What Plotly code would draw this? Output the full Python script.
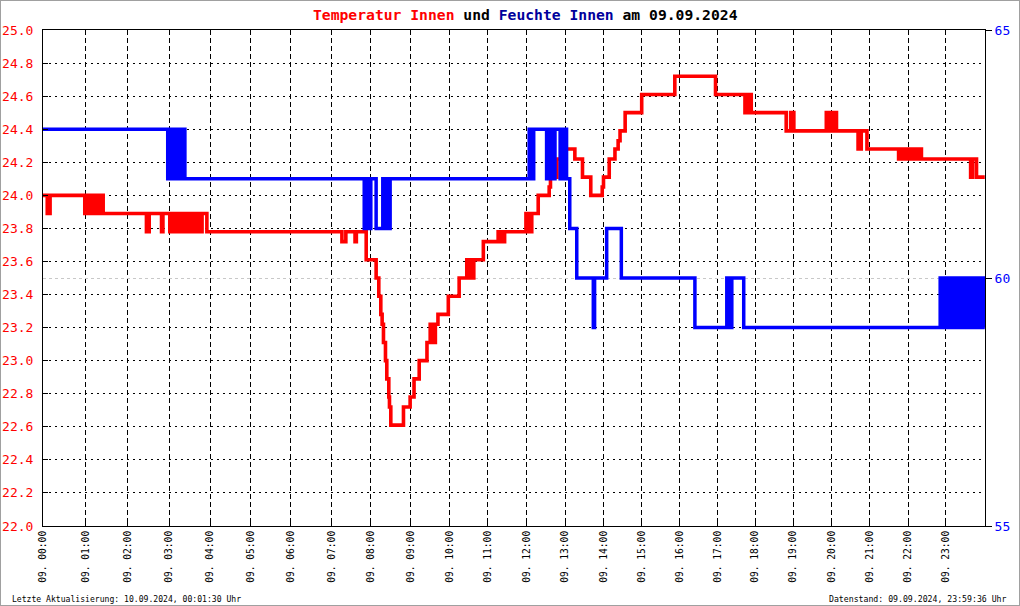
import numpy as np
import plotly.graph_objects as go

# ---------------- data ----------------
hour_labels = [f"09. {h:02d}:00" for h in range(24)]

# offsets (in plot units) of each hour gridline on the original chart's
# slightly non-uniform time scale, 00:00 .. 24:00
hour_tick_offsets = [0, 42.5, 84.9, 126.1, 167.3, 207.9, 247.9, 288.4, 327.8,
                     367.8, 406.6, 444.8, 483.6, 522.3, 560.5, 598.7, 636.9,
                     674.4, 712.0, 750.2, 788.4, 826.5, 865.3, 902.8, 942]

temp_times = [
    "00:00", "00:06", "00:10", "00:59", "01:02", "01:05", "01:08", "01:11", "01:14",
    "01:17", "01:20", "01:25", "02:27", "02:31", "02:49", "02:51", "03:01", "03:05",
    "03:09", "03:13", "03:17", "03:21", "03:26", "03:30", "03:35", "03:40", "03:44",
    "03:48", "03:55", "07:16", "07:22", "07:36", "07:38", "07:53", "08:08", "08:12",
    "08:15", "08:17", "08:19", "08:22", "08:24", "08:27", "08:28", "08:30", "08:49",
    "08:59", "09:05", "09:13", "09:25", "09:30", "09:32", "09:34", "09:36", "09:38",
    "09:42", "09:58", "10:15", "10:27", "10:29", "10:31", "10:33", "10:35", "10:37",
    "10:38", "10:53", "11:16", "11:18", "11:21", "11:23", "11:26", "11:59", "12:01",
    "12:03", "12:06", "12:08", "12:18", "12:35", "12:37", "12:47", "12:58", "13:15",
    "13:27", "13:40", "13:58", "14:00", "14:09", "14:18", "14:23", "14:26", "14:34",
    "15:00", "15:52", "16:57", "17:44", "17:46", "17:49", "17:51", "17:54", "18:49",
    "18:56", "19:01", "19:52", "19:55", "19:59", "20:02", "20:04", "20:08", "20:42",
    "20:47", "20:56", "21:45", "21:48", "21:51", "21:55", "21:59", "22:03", "22:06",
    "22:10", "22:14", "22:17", "22:21", "23:38", "23:41", "23:47", "23:59:36"]
temp_values = [
    24.00, 23.89, 24.00, 23.89, 24.00, 23.89, 24.00, 23.89, 24.00,
    23.89, 24.00, 23.89, 23.78, 23.89, 23.78, 23.89, 23.78, 23.89,
    23.78, 23.89, 23.78, 23.89, 23.78, 23.89, 23.78, 23.89, 23.78,
    23.89, 23.78, 23.72, 23.78, 23.72, 23.78, 23.61, 23.50, 23.39,
    23.28, 23.22, 23.11, 23.00, 22.89, 22.78, 22.72, 22.61, 22.72,
    22.78, 22.89, 23.00, 23.11, 23.22, 23.11, 23.22, 23.11, 23.22,
    23.28, 23.39, 23.50, 23.61, 23.50, 23.61, 23.50, 23.61, 23.50,
    23.61, 23.72, 23.78, 23.72, 23.78, 23.72, 23.78, 23.89, 23.78,
    23.89, 23.78, 23.89, 24.00, 24.05, 24.11, 24.22, 24.28, 24.22,
    24.11, 24.00, 24.05, 24.11, 24.22, 24.28, 24.33, 24.39, 24.50,
    24.61, 24.72, 24.61, 24.50, 24.61, 24.50, 24.61, 24.50, 24.39,
    24.50, 24.39, 24.50, 24.39, 24.50, 24.39, 24.50, 24.39, 24.28,
    24.39, 24.28, 24.22, 24.28, 24.22, 24.28, 24.22, 24.28, 24.22,
    24.28, 24.22, 24.28, 24.22, 24.11, 24.22, 24.11, 24.11]

hum_times = [
    "00:00", "02:58", "03:00", "03:02", "03:04", "03:06", "03:09", "03:12", "03:14",
    "03:17", "03:19", "03:23", "07:50", "07:52", "07:54", "07:56", "07:58", "08:00",
    "08:08", "08:18", "08:20", "08:22", "08:24", "08:26", "08:28", "08:29", "12:04",
    "12:06", "12:08", "12:10", "12:11", "12:31", "12:33", "12:35", "12:37", "12:39",
    "12:41", "12:43", "12:44", "12:52", "12:57", "13:02", "13:07", "13:18", "13:44",
    "13:46", "14:05", "14:28", "16:24", "17:15", "17:17", "17:19", "17:21", "17:23",
    "17:42", "22:51", "22:52", "22:54", "22:55", "22:57", "22:58", "23:00", "23:02",
    "23:03", "23:05", "23:06", "23:08", "23:09", "23:11", "23:12", "23:14", "23:15",
    "23:17", "23:18", "23:20", "23:21", "23:23", "23:24", "23:29", "23:30", "23:32",
    "23:33", "23:35", "23:36", "23:41", "23:42", "23:44", "23:45", "23:47", "23:48",
    "23:50", "23:51", "23:53", "23:54", "23:56", "23:57", "23:59", "23:59:36"]
hum_values = [
    63, 62, 63, 62, 63, 62, 63, 62, 63,
    62, 63, 62, 61, 62, 61, 62, 61, 62,
    61, 62, 61, 62, 61, 62, 61, 62, 63,
    62, 63, 62, 63, 62, 63, 62, 63, 62,
    63, 62, 63, 62, 63, 62, 61, 60, 59,
    60, 61, 60, 59, 60, 59, 60, 59, 60,
    59, 60, 59, 60, 59, 60, 59, 60, 59,
    60, 59, 60, 59, 60, 59, 60, 59, 60,
    59, 60, 59, 60, 59, 60, 59, 60, 59,
    60, 59, 60, 59, 60, 59, 60, 59, 60,
    59, 60, 59, 60, 59, 60, 59, 59]


# ---------------- helpers ----------------
def to_hours(t):
    parts = [int(p) for p in t.split(":")]
    while len(parts) < 3:
        parts.append(0)
    return parts[0] + parts[1] / 60 + parts[2] / 3600


def to_axis(times):
    h = np.array([to_hours(t) for t in times])
    return np.interp(h, np.arange(25), hour_tick_offsets)


MONO = "DejaVu Sans Mono"

fig = go.Figure()

fig.add_trace(go.Scatter(
    x=to_axis(hum_times), y=hum_values, yaxis="y2", mode="lines",
    line=dict(color="#0000ff", width=3.5, shape="hv"), name="Feuchte Innen"))

fig.add_trace(go.Scatter(
    x=to_axis(temp_times), y=temp_values, yaxis="y", mode="lines",
    line=dict(color="#ff0000", width=3.6, shape="hv"), name="Temperatur Innen"))

PW, PH, ML, MT = 942, 496, 43, 30


def px_x(px):
    return (px - ML) / PW


def px_y(py):
    return (MT + PH - py) / PH


fig.update_layout(
    width=1020, height=606,
    margin=dict(l=ML, r=1020 - ML - PW, t=MT, b=606 - MT - PH, pad=0,
                autoexpand=False),
    showlegend=False,
    plot_bgcolor="white", paper_bgcolor="white",
    font=dict(family=MONO, color="black"),
    xaxis=dict(
        range=[0, hour_tick_offsets[-1]], automargin=False,
        tickmode="array", tickvals=hour_tick_offsets[:24], ticktext=hour_labels,
        tickangle=-90, tickfont=dict(family=MONO, size=9.6, color="black"),
        showgrid=True, gridcolor="black", gridwidth=1, griddash="5px,3px",
        showline=True, linecolor="black", linewidth=1, mirror=True,
        ticks="inside", ticklen=5, tickcolor="black", zeroline=False,
        fixedrange=True,
    ),
    yaxis=dict(
        range=[22, 25], tick0=22, dtick=0.2, tickformat=".1f", automargin=False,
        tickfont=dict(family=MONO, size=13, color="#ff0000"),
        showgrid=True, gridcolor="black", gridwidth=1, griddash="2px,4px",
        showline=True, linecolor="black", linewidth=1,
        ticks="inside", ticklen=5, tickcolor="black", zeroline=False,
        ticklabelstandoff=6,
    ),
    yaxis2=dict(
        overlaying="y", side="right", range=[55, 65], automargin=False,
        tickmode="array", tickvals=[55, 60, 65],
        tickfont=dict(family=MONO, size=13, color="#0000ff"),
        showgrid=True, gridcolor="#c8c8c8", gridwidth=1, griddash="3px,3px",
        showline=True, linecolor="black", linewidth=1,
        ticks="outside", ticklen=6, tickcolor="black", zeroline=False,
    ),
)

fig.add_annotation(
    xref="paper", yref="paper", x=px_x(525.5), y=px_y(14),
    xanchor="center", yanchor="middle", showarrow=False,
    text=("<b><span style='color:#ff0000'>Temperatur Innen</span> und "
          "<span style='color:#00009c'>Feuchte Innen</span> am 09.09.2024</b>"),
    font=dict(family=MONO, size=14.7, color="black"))

fig.add_annotation(
    xref="paper", yref="paper", x=px_x(10), y=px_y(599),
    xanchor="left", yanchor="middle", showarrow=False,
    text="Letzte Aktualisierung: 10.09.2024, 00:01:30 Uhr",
    font=dict(family=MONO, size=8.1, color="black"))

fig.add_annotation(
    xref="paper", yref="paper", x=px_x(1009), y=px_y(599),
    xanchor="right", yanchor="middle", showarrow=False,
    text="Datenstand: 09.09.2024, 23:59:36 Uhr",
    font=dict(family=MONO, size=8.2, color="black"))

fig.add_shape(
    type="rect", xref="paper", yref="paper",
    x0=px_x(0), x1=px_x(1020), y0=px_y(606), y1=px_y(0),
    line=dict(color="#a0a0a0", width=2), layer="above")

fig.write_html(
    "out.html",
    config={"displayModeBar": False, "staticPlot": True},
    post_script="document.body.style.margin='0';document.body.style.overflow='hidden';")
